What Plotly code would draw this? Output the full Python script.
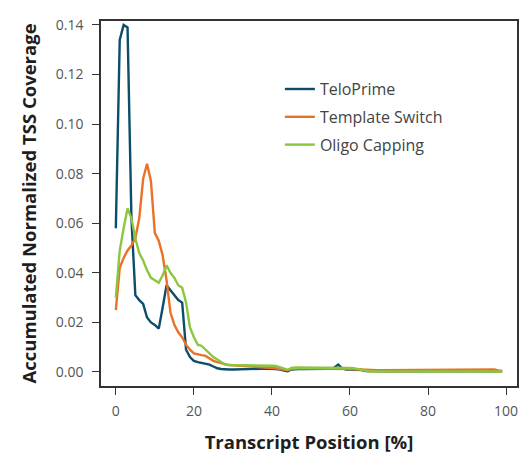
import plotly.graph_objects as go

# Transcript position (%) in 1 % bins
position = list(range(0, 100))

telo_prime = [
    0.058, 0.134, 0.140, 0.139, 0.062, 0.031, 0.029, 0.0275, 0.022, 0.020,
    0.019, 0.0175, 0.026, 0.035, 0.033, 0.031, 0.029, 0.028, 0.009, 0.006,
    0.0045, 0.004, 0.0037, 0.0035, 0.003, 0.0022, 0.0015, 0.0012, 0.001, 0.001,
    0.001, 0.001, 0.001, 0.001, 0.001, 0.0011, 0.0012, 0.0013, 0.0014, 0.0014,
    0.0013, 0.0012, 0.001, 0.0008, 0.0003, 0.0010, 0.0012, 0.0012, 0.0012, 0.0012,
    0.0012, 0.0012, 0.0012, 0.0012, 0.0012, 0.0013, 0.0018, 0.003, 0.0015, 0.001,
    0.001, 0.001, 0.001, 0.0008, 0.0004, 0.0003, 0.0003, 0.0003, 0.0003, 0.0003,
    0.0003, 0.0003, 0.0003, 0.0003, 0.0003, 0.0003, 0.0003, 0.0003, 0.0003, 0.0003,
    0.0003, 0.0003, 0.0003, 0.0003, 0.0003, 0.0003, 0.0003, 0.0003, 0.0003, 0.0003,
    0.0003, 0.0003, 0.0003, 0.0003, 0.0003, 0.0003, 0.0003, 0.0003, 0.0003, 0.0003,
]

template_switch = [
    0.025, 0.042, 0.046, 0.049, 0.051, 0.054, 0.062, 0.078, 0.084, 0.077,
    0.056, 0.053, 0.047, 0.037, 0.024, 0.019, 0.016, 0.014, 0.011, 0.009,
    0.0075, 0.007, 0.0068, 0.0065, 0.0055, 0.0045, 0.004, 0.0035, 0.003, 0.0028,
    0.0027, 0.0026, 0.0025, 0.0024, 0.0022, 0.0021, 0.002, 0.0019, 0.0019, 0.0018,
    0.0018, 0.0015, 0.0012, 0.001, 0.0008, 0.0012, 0.0014, 0.0014, 0.0014, 0.0014,
    0.0015, 0.0015, 0.0015, 0.0015, 0.0015, 0.0015, 0.0015, 0.0015, 0.0014, 0.0013,
    0.0012, 0.0011, 0.001, 0.0008, 0.0007, 0.0007, 0.0007, 0.0007, 0.0007, 0.0007,
    0.0007, 0.0007, 0.0007, 0.0007, 0.0007, 0.0007, 0.0007, 0.0007, 0.0007, 0.0007,
    0.0007, 0.0007, 0.0007, 0.0007, 0.0007, 0.0007, 0.0007, 0.0007, 0.0007, 0.0007,
    0.0007, 0.0007, 0.0007, 0.0007, 0.0007, 0.0007, 0.0008, 0.001, 0.0006, 0.0005,
]

oligo_capping = [
    0.030, 0.049, 0.058, 0.066, 0.062, 0.054, 0.048, 0.045, 0.041, 0.038,
    0.037, 0.036, 0.039, 0.043, 0.040, 0.038, 0.035, 0.034, 0.028, 0.018,
    0.014, 0.011, 0.0105, 0.009, 0.0075, 0.006, 0.005, 0.004, 0.003, 0.0028,
    0.0028, 0.0028, 0.0028, 0.0028, 0.0028, 0.0028, 0.0027, 0.0027, 0.0027, 0.0026,
    0.0025, 0.0024, 0.002, 0.0015, 0.0008, 0.0016, 0.0018, 0.0018, 0.0018, 0.0018,
    0.0019, 0.0019, 0.0019, 0.0019, 0.0019, 0.0019, 0.0019, 0.0019, 0.0018, 0.0017,
    0.0016, 0.0015, 0.0012, 0.0008, 0.0003, 0.0002, 0.0002, 0.0002, 0.0002, 0.0002,
    0.0002, 0.0002, 0.0002, 0.0002, 0.0002, 0.0002, 0.0002, 0.0002, 0.0002, 0.0002,
    0.0002, 0.0002, 0.0002, 0.0002, 0.0002, 0.0002, 0.0002, 0.0002, 0.0002, 0.0002,
    0.0002, 0.0002, 0.0002, 0.0002, 0.0002, 0.0002, 0.0002, 0.0002, 0.0002, 0.0002,
]

series_names = ["TeloPrime", "Template Switch", "Oligo Capping"]
series_colors = ["#0b4d6b", "#ea7128", "#8cc63f"]
x_ticks = [0, 20, 40, 60, 80, 100]
y_ticks = [0.00, 0.02, 0.04, 0.06, 0.08, 0.10, 0.12, 0.14]

FONT = "Open Sans"
AXIS_COLOR = "#333333"
TICK_FONT = dict(family=FONT, size=14, color="#555555")
TITLE_FONT = dict(family=FONT, size=18.5, color="#1e1e1e", weight="bold")

fig = go.Figure()
for name, color, values in zip(series_names, series_colors,
                               [telo_prime, template_switch, oligo_capping]):
    fig.add_trace(go.Scatter(
        x=position, y=values, mode="lines", name=name, legendgroup=name,
        line=dict(color=color, width=2.4),
    ))

axis_common = dict(
    showline=True, mirror=True, linecolor=AXIS_COLOR, linewidth=1.5,
    ticks="outside", ticklen=7, tickwidth=1.2, tickcolor=AXIS_COLOR,
    showgrid=False, zeroline=False, tickfont=TICK_FONT,
)

fig.update_xaxes(
    **axis_common, range=[-3.8, 102.8], tickvals=x_ticks,
    ticklabelstandoff=4,
    title=dict(text="Transcript Position [%]", font=TITLE_FONT, standoff=18),
)
fig.update_yaxes(
    **axis_common, range=[-0.00565, 0.1416], tickvals=y_ticks, tickformat=".2f",
    ticklabelstandoff=6,
    title=dict(text="Accumulated Normalized TSS Coverage", font=TITLE_FONT, standoff=14),
)

fig.update_layout(
    width=527, height=460,
    margin=dict(l=101, r=8, t=21, b=74),
    plot_bgcolor="white", paper_bgcolor="white",
    showlegend=True,
    legend=dict(
        x=0.43, y=0.86, xanchor="left", yanchor="top",
        font=dict(family=FONT, size=16, color="#444444"),
        traceorder="grouped", tracegroupgap=4,
        bgcolor="rgba(0,0,0,0)",
    ),
)

fig.write_html("out.html")
